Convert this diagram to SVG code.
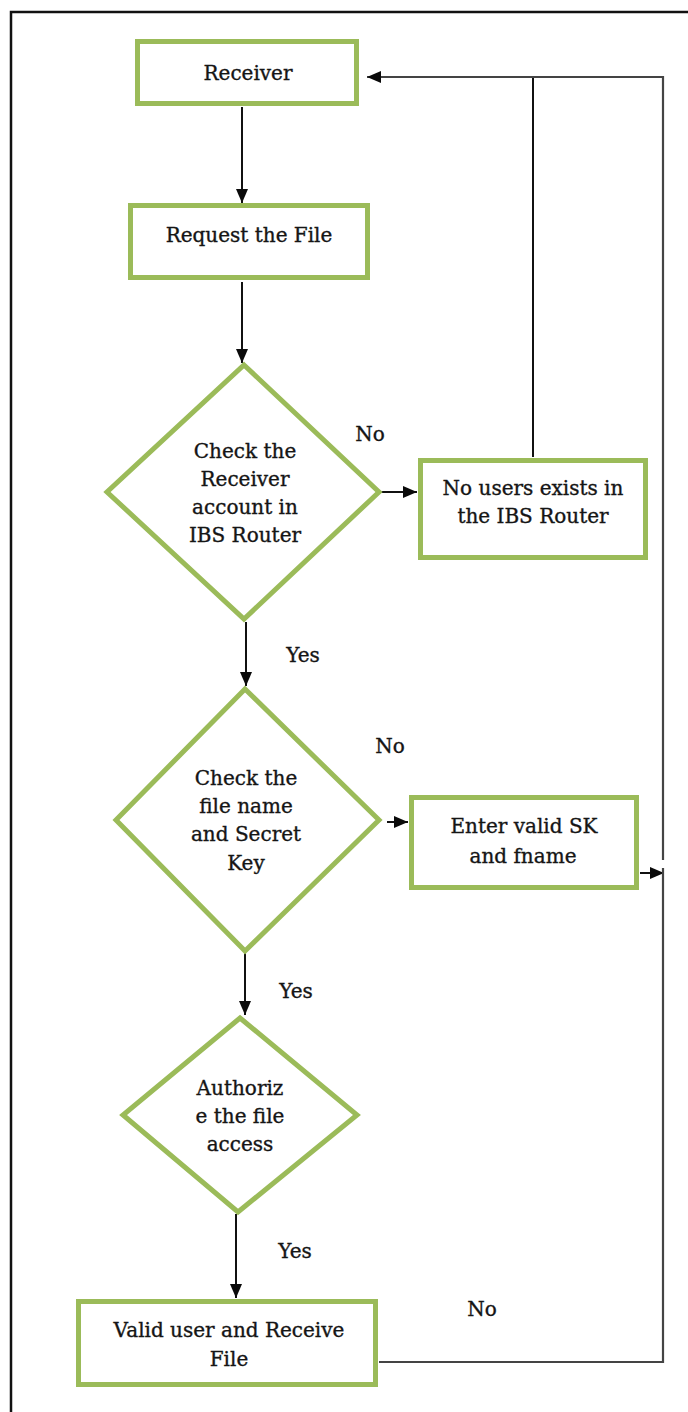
<svg xmlns="http://www.w3.org/2000/svg" width="688" height="1412" viewBox="0 0 688 1412">
  <style>
    .box { fill: #ffffff; stroke: #9bbb59; stroke-width: 5; }
    text { font-family: "DejaVu Serif", "Liberation Serif", serif; font-size: 20px; fill: #151515; stroke: #151515; stroke-width: 0.35; text-anchor: middle; }
    .wire { fill: none; stroke: #111111; stroke-width: 2; }
    .wire-grey { fill: none; stroke: #444444; stroke-width: 2.2; }
    .frame { fill: none; stroke: #111111; stroke-width: 2.5; }
  </style>
  <defs>
    <marker id="head" viewBox="0 0 14 12" refX="14" refY="6" markerWidth="14" markerHeight="12" markerUnits="userSpaceOnUse" orient="auto">
      <path d="M0,0 L14,6 L0,12 z" fill="#0a0a0a"/>
    </marker>
  </defs>

  <rect width="688" height="1412" fill="#ffffff"/>
  <!-- page frame -->
  <path class="frame" d="M11,1412 L11,12 L688,12"/>

  <!-- connectors -->
  <g id="connectors">
    <line class="wire" x1="242" y1="107" x2="242" y2="203" marker-end="url(#head)"/>
    <line class="wire" x1="242" y1="282" x2="242" y2="363" marker-end="url(#head)"/>
    <line class="wire" x1="381" y1="492" x2="417" y2="492" marker-end="url(#head)"/>
    <line class="wire" x1="533" y1="457" x2="533" y2="77"/>
    <polyline class="wire-grey" points="663,860 663,77 367,77" marker-end="url(#head)"/>
    <line class="wire" x1="246" y1="622" x2="246" y2="686" marker-end="url(#head)"/>
    <line class="wire" x1="387" y1="822" x2="408" y2="822" marker-end="url(#head)"/>
    <line class="wire" x1="640" y1="873" x2="664" y2="873" marker-end="url(#head)"/>
    <polyline class="wire-grey" points="379,1362 663,1362 663,868"/>
    <line class="wire" x1="245" y1="953" x2="245" y2="1015" marker-end="url(#head)"/>
    <line class="wire" x1="236" y1="1214" x2="236" y2="1298" marker-end="url(#head)"/>
  </g>

  <!-- nodes -->
  <g id="receiver">
    <rect class="box" x="137.5" y="41.5" width="219" height="62"/>
    <text x="248" y="80">Receiver</text>
  </g>

  <g id="request-file">
    <rect class="box" x="130.5" y="205.5" width="237" height="72"/>
    <text x="249" y="242">Request the File</text>
  </g>

  <g id="check-account">
    <polygon class="box" points="244,365 379,492 244,619 107,492"/>
    <text x="245" y="458">Check the</text>
    <text x="245" y="486">Receiver</text>
    <text x="245" y="514">account in</text>
    <text x="245" y="542">IBS Router</text>
  </g>

  <g id="no-users">
    <rect class="box" x="420.5" y="460.5" width="225" height="97"/>
    <text x="533" y="495">No users exists in</text>
    <text x="533" y="523">the IBS Router</text>
  </g>

  <g id="check-key">
    <polygon class="box" points="245,689 379,820 245,951 116,820"/>
    <text x="246" y="785">Check the</text>
    <text x="246" y="813">file name</text>
    <text x="246" y="841">and Secret</text>
    <text x="246" y="870">Key</text>
  </g>

  <g id="enter-valid">
    <rect class="box" x="411.5" y="797.5" width="225" height="90"/>
    <text x="524" y="833">Enter valid SK</text>
    <text x="523" y="863">and fname</text>
  </g>

  <g id="authorize">
    <polygon class="box" points="240,1018 357,1115 238,1212 123,1115"/>
    <text x="240" y="1095">Authoriz</text>
    <text x="240" y="1123">e the file</text>
    <text x="240" y="1151">access</text>
  </g>

  <g id="valid-user">
    <rect class="box" x="78.5" y="1301.5" width="297" height="83"/>
    <text x="229" y="1337">Valid user and Receive</text>
    <text x="229" y="1366">File</text>
  </g>

  <!-- branch labels -->
  <g id="labels">
    <text x="370" y="441">No</text>
    <text x="303" y="662">Yes</text>
    <text x="390" y="753">No</text>
    <text x="296" y="998">Yes</text>
    <text x="295" y="1258">Yes</text>
    <text x="482" y="1316">No</text>
  </g>
</svg>
